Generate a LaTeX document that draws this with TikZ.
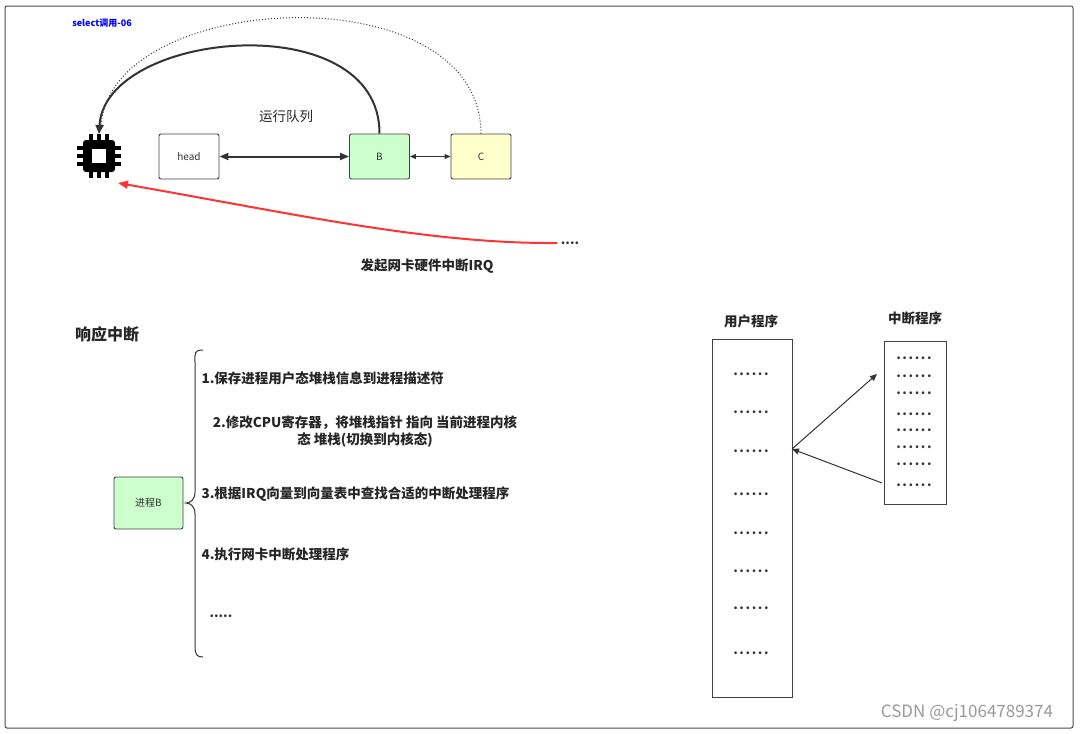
\documentclass[tikz,border=0pt]{standalone}
\usepackage{fontspec}
\setmainfont{Noto Sans CJK SC}
\usetikzlibrary{arrows.meta}
\newcommand\sixd{.\kern1.6pt.\kern1.6pt.\kern1.6pt.\kern1.6pt.\kern1.6pt.}
\begin{document}
\begin{tikzpicture}[x=1pt,y=-1pt,
  box/.style={draw=black!75,line width=0.9pt,rounded corners=2pt,minimum width=60pt,minimum height=45pt,font=\fontsize{10}{12}\selectfont,text=black!80},
  lbl/.style={font=\bfseries\fontsize{13.5}{17}\selectfont,text=black!85},
  dots/.style={font=\bfseries\fontsize{13}{13}\selectfont,text=black!80},
  arr/.style={-{Triangle[length=7pt,width=6pt]},draw=black!80}]
\useasboundingbox (0,0) rectangle (1080,734);
\draw[black!70,line width=1pt,rounded corners=2pt] (5,6) rectangle (1073,728);
\node[font=\bfseries\fontsize{9}{10}\selectfont,text=blue] (sel) at (102,23) {select调用-06};
% CPU
\begin{scope}[shift={(99,156)}]
\foreach \i in {-8,0,8}{
  \fill[black] (\i-2,-22) rectangle (\i+2,22);
  \fill[black] (-22,\i-2) rectangle (22,\i+2);}
\fill[black,rounded corners=3pt] (-16,-16) rectangle (16,16);
\fill[white] (-7,-7) rectangle (7,7);
\end{scope}
\coordinate (cpu) at (99,134);
\coordinate (cpu2) at (101,128);
\coordinate (cpur) at (118,183);
\node[box,fill=white] (head) at (189,156.5) {head};
\node[box,fill={rgb,255:red,204;green,255;blue,204}] (B) at (379.5,156.5) {B};
\node[box,fill={rgb,255:red,255;green,255;blue,204}] (C) at (481,156.5) {C};
\node[font=\fontsize{13.5}{15}\selectfont,text=black!85] (rq) at (286,116) {运行队列};
\draw[{Triangle[length=9pt,width=7pt]}-{Triangle[length=9pt,width=7pt]},black!80,line width=2pt] (head) -- (B);
\draw[{Triangle[length=6pt,width=5pt]}-{Triangle[length=6pt,width=5pt]},black!80,line width=1pt] (B) -- (C);
\draw[arr,line width=2pt,-{Triangle[length=9pt,width=8pt]}] (B.north) .. controls (380,5) and (105,30) .. (cpu);
\draw[black!80,line width=1pt,dotted] (C.north) .. controls (480,-30) and (105,-10) .. (cpu2);
\node[dots] (d1) at (570,243) {....};
\draw[red!80,line width=2pt,-{Triangle[length=10pt,width=8pt]}] (d1.west) .. controls (430,244) and (300,215) .. (cpur);
\node[lbl] (irq) at (427,266) {发起网卡硬件中断IRQ};
\node[font=\bfseries\fontsize{16}{18}\selectfont,text=black!85] (xy) at (107,334) {响应中断};
\draw[black!80,line width=1pt] (203,350) .. controls (194,350) and (195,353) .. (195,362) -- (195,492) .. controls (195,500) and (190,503) .. (186,503) .. controls (190,503) and (195,506) .. (195,514) -- (195,646) .. controls (195,655) and (197,657) .. (203,657);
\node[lbl,anchor=west] (s1) at (198,378) {1.保存进程用户态堆栈信息到进程描述符};
\node[lbl,align=center] (s2) at (365,432) {2.修改CPU寄存器，将堆栈指针 指向 当前进程内核\\态 堆栈(切换到内核态)};
\node[lbl,anchor=west] (s3) at (198,494) {3.根据IRQ向量到向量表中查找合适的中断处理程序};
\node[lbl,anchor=west] (s4) at (198,554) {4.执行网卡中断处理程序};
\node[dots,anchor=west] (s5) at (206,616) {.....};
\node[box,minimum width=69pt,minimum height=52pt,fill={rgb,255:red,204;green,255;blue,204}] (pb) at (148.5,503) {进程B};
\node[draw=black!75,line width=1pt,minimum width=80pt,minimum height=358pt,inner sep=0pt] (up) at (752,518) {};
\node[draw=black!75,line width=1pt,minimum width=62pt,minimum height=163pt,inner sep=0pt] (ip) at (915,422.5) {};
\node[lbl] (ul) at (751,321) {用户程序};
\node[lbl] (il) at (915,318) {中断程序};
\foreach \y in {378,416,455,498,537,575,612,657} \node[dots] at (751,\y-4) {\sixd};
\foreach \y in {362,380,397,418,434,451,468,489} \node[dots] at (914,\y-4) {\sixd};
\coordinate (ua) at (792,449);
\coordinate (it) at (877,374);
\coordinate (ib) at (882,483);
\draw[arr,line width=1pt] (ua) -- (it);
\draw[arr,line width=1pt] (ib) -- (ua);
\node[font=\fontsize{17}{19}\selectfont,text=black!40] (wm) at (967,713) {CSDN @cj1064789374};
\end{tikzpicture}
\end{document}
